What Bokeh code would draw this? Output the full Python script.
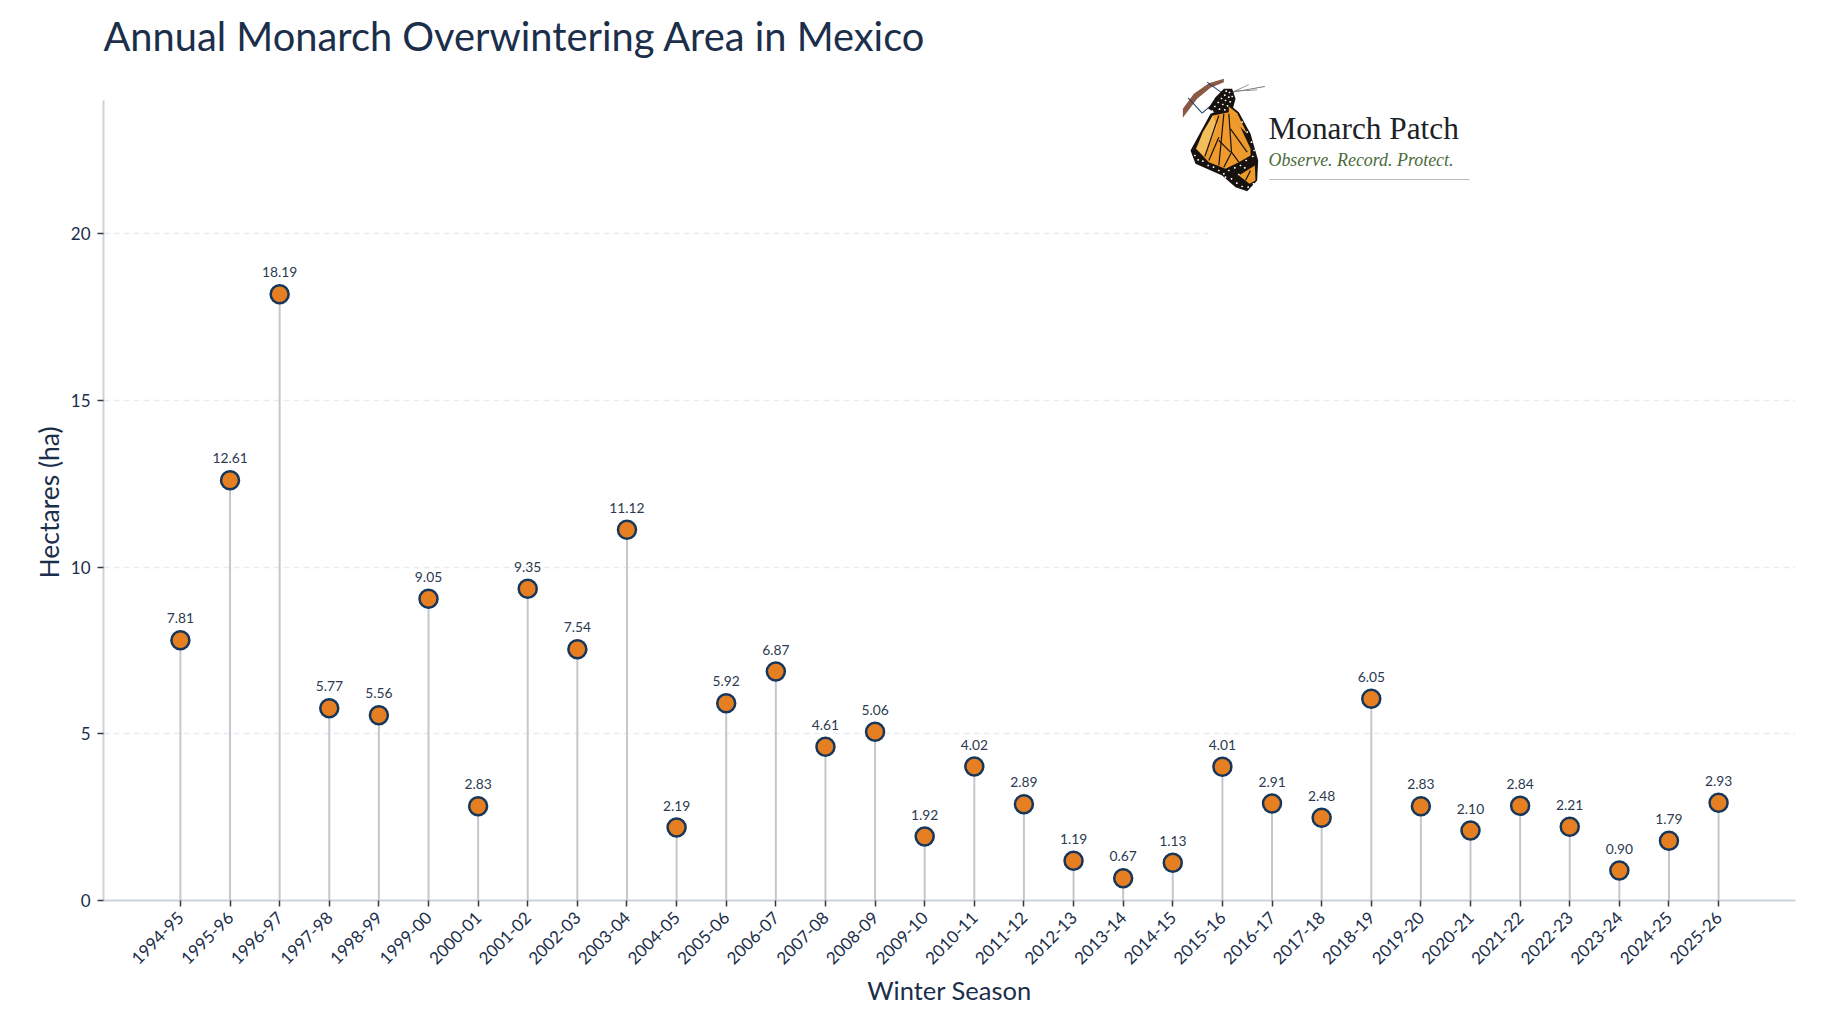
from math import pi, cos, sin
from bokeh.plotting import figure
from bokeh.embed import file_html
from bokeh.resources import INLINE
from bokeh.core.properties import value
from bokeh.models import (ColumnDataSource, FactorRange, Range1d, FixedTicker, Label, Title,
                          PolyAnnotation, BoxAnnotation)

seasons = ["1994-95", "1995-96", "1996-97", "1997-98", "1998-99", "1999-00", "2000-01", "2001-02",
           "2002-03", "2003-04", "2004-05", "2005-06", "2006-07", "2007-08", "2008-09", "2009-10",
           "2010-11", "2011-12", "2012-13", "2013-14", "2014-15", "2015-16", "2016-17", "2017-18",
           "2018-19", "2019-20", "2020-21", "2021-22", "2022-23", "2023-24", "2024-25", "2025-26"]
hectares = [7.81, 12.61, 18.19, 5.77, 5.56, 9.05, 2.83, 9.35, 7.54, 11.12, 2.19, 5.92, 6.87, 4.61,
            5.06, 1.92, 4.02, 2.89, 1.19, 0.67, 1.13, 4.01, 2.91, 2.48, 6.05, 2.83, 2.10, 2.84,
            2.21, 0.90, 1.79, 2.93]
y_ticks = [0, 5, 10, 15, 20]

NAVY = "#1b2e4a"
FONT = "Lato"

src = ColumnDataSource(dict(season=seasons, ha=hectares, zero=[0] * len(seasons),
                            lab=["%.2f" % v for v in hectares]))

# The frame reaches 30px above the y axis line, so that the logo at its top edge is not clipped.
p = figure(width=1818, height=1008, output_backend="svg", toolbar_location=None,
           x_range=FactorRange(factors=seasons, range_padding=1.05, range_padding_units="absolute"),
           y_range=Range1d(0, 24.9), min_border_left=103, min_border_right=23,
           min_border_top=70, min_border_bottom=108, outline_line_color=None,
           title="Annual Monarch Overwintering Area in Mexico")
p.title.text_font = FONT
p.title.text_font_size = "39.8px"
p.title.text_font_style = "normal"
p.title.text_color = NAVY
p.title.vertical_align = "top"
p.title.standoff = 20

p.xgrid.visible = False
p.ygrid.ticker = FixedTicker(ticks=y_ticks)
p.ygrid.grid_line_color = "#e8ebef"
p.ygrid.grid_line_dash = "6 4"
p.ygrid.grid_line_width = 1.3

for ax in (p.xaxis[0], p.yaxis[0]):
    ax.axis_line_color = "#cbd2da"
    ax.axis_line_width = 2
    ax.major_tick_line_color = "#333a45"
    ax.major_tick_line_width = 1.5
    ax.major_tick_out = 6
    ax.major_tick_in = 0
    ax.minor_tick_line_color = None
    ax.major_label_text_font = FONT
    ax.major_label_text_color = NAVY
    ax.major_label_text_font_size = "17px"
    ax.axis_label_text_font = FONT
    ax.axis_label_text_font_style = "normal"
    ax.axis_label_text_color = NAVY
    ax.axis_label_text_font_size = "25.5px"

p.yaxis[0].ticker = FixedTicker(ticks=y_ticks)
p.yaxis[0].bounds = (0, 24)
p.yaxis[0].major_label_standoff = 7
p.xaxis[0].axis_label = "Winter Season"
p.xaxis[0].major_label_orientation = pi / 4
p.xaxis[0].major_label_standoff = 8
p.xaxis[0].axis_label_standoff = 2

# The y axis title is a side title, so it can sit on the axis line and not on the taller frame's centre.
p.add_layout(Title(text="Hectares (ha)", align="left", offset=322, standoff=5, text_font=FONT,
                   text_font_style="normal", text_font_size="26.5px", text_color=NAVY), "left")

p.segment("season", "zero", "season", "ha", source=src, line_color="#c4c8cd", line_width=2)
p.scatter("season", "ha", source=src, size=18, fill_color="#e67e22", line_color="#16365a", line_width=2.5)
p.text("season", "ha", text="lab", source=src, y_offset=-22, text_align="center",
       text_baseline="middle", text_font=value(FONT), text_font_size="13.8px", text_color="#2b3a50")

# Annotation screen units here count from the frame's lower left corner.
FL, FB = 103, 900


# ---- logo block laid over the chart (white panel, butterfly, wordmark) ----
def poly(pts, fill, line=None, lw=0):
    # pts in picture pixels
    p.add_layout(PolyAnnotation(xs=[a - FL for a, b in pts], ys=[FB - b for a, b in pts],
                                xs_units="screen", ys_units="screen",
                                fill_color=fill, fill_alpha=1, line_color=line,
                                line_width=lw, line_alpha=1 if line else 0))


def z(pts):
    # from the 3x crop of the logo to picture pixels
    return [(1175 + a / 3, 70 + b / 3) for a, b in pts]


def stroke(a, b, color="#17120e", w=1.2):
    (x0, y0), (x1, y1) = z([a, b])
    dx, dy = x1 - x0, y1 - y0
    n = (dx * dx + dy * dy) ** 0.5 or 1
    ox, oy = -dy / n * w / 2, dx / n * w / 2
    poly([(x0 + ox, y0 + oy), (x1 + ox, y1 + oy), (x1 - ox, y1 - oy), (x0 - ox, y0 - oy)], color)


def dot(c, r=1.0, color="white"):
    x, y = z([c])[0]
    poly([(x + r * cos(k * pi / 3), y + r * sin(k * pi / 3)) for k in range(6)], color)


p.add_layout(BoxAnnotation(left=1208 - FL, right=1795 - FL, top=FB - 190, bottom=FB - 250,
                           left_units="screen", right_units="screen", top_units="screen",
                           bottom_units="screen", fill_color="white", fill_alpha=1, line_color=None))

poly(z([(22, 115), (55, 70), (100, 38), (145, 25), (145, 35), (105, 52), (65, 85), (22, 142)]), "#8b5a47")
stroke((172, 65), (220, 42), "#777777", 0.8)
stroke((172, 65), (268, 48), "#777777", 0.8)
stroke((178, 62), (245, 58), "#777777", 0.8)
stroke((95, 35), (140, 68), "#24406e", 1)
stroke((38, 82), (80, 128), "#24406e", 1)
stroke((80, 128), (112, 100), "#24406e", 1)
poly(z([(105, 130), (165, 105), (190, 125), (225, 190), (248, 270), (245, 330), (215, 362), (180, 350),
        (140, 315), (60, 280), (45, 240)]), "#17120e")
poly(z([(145, 55), (170, 55), (180, 85), (170, 122), (130, 132), (98, 115), (120, 80)]), "#17120e")
poly(z([(112, 135), (160, 125), (195, 170), (225, 235), (225, 255), (190, 275), (150, 295), (100, 275),
        (62, 235)]), "#ee9a2d")
poly(z([(112, 135), (82, 185), (62, 235), (88, 258), (125, 165)]), "#f4bd5c")
poly(z([(160, 108), (185, 128), (215, 190), (190, 165), (160, 130)]), "#ee9a2d")
poly(z([(190, 315), (238, 285), (240, 330), (222, 340)]), "#ee9a2d")
for a, b in [((130, 135), (88, 258)), ((145, 130), (130, 285)), ((160, 130), (168, 245)),
             ((168, 245), (145, 290)), ((168, 245), (190, 275)), ((165, 175), (215, 245)),
             ((130, 200), (100, 270)), ((130, 210), (165, 245)), ((225, 300), (210, 330))]:
    stroke(a, b)
body_dots = [(152, 62), (162, 66), (148, 74), (160, 80), (170, 78), (138, 84), (150, 90), (164, 94),
             (128, 96), (142, 102), (156, 106), (118, 108), (132, 116), (148, 118), (110, 122)]
band_dots = [(58, 255), (68, 268), (82, 272), (98, 285), (114, 290), (130, 300), (145, 310), (160, 300),
             (178, 292), (195, 285), (212, 270), (232, 258), (236, 240), (228, 215), (215, 185), (200, 155),
             (150, 320), (168, 325), (184, 338), (200, 348), (218, 350), (234, 340), (190, 312), (208, 292)]
for c in body_dots + band_dots:
    dot(c)

p.add_layout(Label(x=1268 - FL, y=FB - 128, x_units="screen", y_units="screen", text="Monarch Patch",
                   text_font="Liberation Serif", text_font_size="31.3px", text_color="#1c2326",
                   text_baseline="middle"))
p.add_layout(Label(x=1268 - FL, y=FB - 159, x_units="screen", y_units="screen",
                   text="Observe. Record. Protect.", text_font="Liberation Serif", text_font_style="italic",
                   text_font_size="17.9px", text_color="#4a6b3c", text_baseline="middle"))
poly([(1269, 178.6), (1469, 178.6), (1469, 179.6), (1269, 179.6)], "#b8bcbc")

open("out.html", "w").write(file_html(p, INLINE))
